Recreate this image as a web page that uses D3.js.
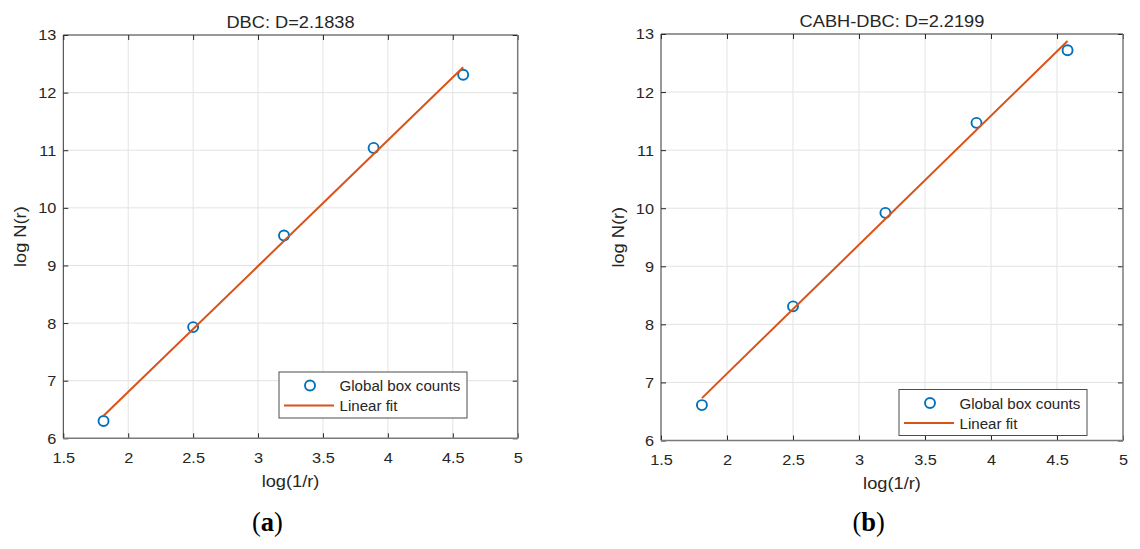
<!DOCTYPE html>
<html>
<head>
<meta charset="utf-8">
<script src="https://cdn.jsdelivr.net/npm/d3@7"></script>
<style>
  html, body { margin: 0; padding: 0; background: #fff; }
  svg { display: block; }
  text { font-family: "Liberation Sans", Arial, sans-serif; fill: #262626; }
</style>
</head>
<body>
<div id="chart-area"></div>
<script>
/* Data */
const logInvR = [1.81, 2.50, 3.20, 3.89, 4.58]
const dbcLogN = [6.30, 7.93, 9.52, 11.04, 12.31]
const cabhLogN = [6.61, 8.31, 9.92, 11.47, 12.72]

// linear fit end points
const fitX = [1.81, 4.58]
const dbcFit = [6.39, 12.44]
const cabhFit = [6.73, 12.88]

const xTicks = [1.5, 2, 2.5, 3, 3.5, 4, 4.5, 5]
const yTicks = [6, 7, 8, 9, 10, 11, 12, 13]
const titles = ['DBC: D=2.1838', 'CABH-DBC: D=2.2199']
const captions = ['a', 'b']
const legendLabels = ['Global box counts', 'Linear fit']

/* Canvas */
const CANVAS_WIDTH = 1140
const CANVAS_HEIGHT = 549

const BLUE = '#0072BD'
const ORANGE = '#D95319'

const $canvas = d3.select('#chart-area')
  .append('svg')
  .attr('width', CANVAS_WIDTH)
  .attr('height', CANVAS_HEIGHT)

const panels = [
  { left: 63.3, top: 35, right: 517.7, bottom: 438.3, logN: dbcLogN, fit: dbcFit,
    title: titles[0], caption: captions[0], legend: { x: 279, y: 372 }, capX: 267.4 },
  { left: 661, top: 34, right: 1123, bottom: 440.5, logN: cabhLogN, fit: cabhFit,
    title: titles[1], caption: captions[1], legend: { x: 899, y: 389.5 }, capX: 868.6 }
]

function drawPanel(p) {
  const width = p.right - p.left
  const height = p.bottom - p.top

  const $g = $canvas.append('g')
    .attr('transform', `translate(${p.left}, ${p.top})`)

  const scaleX = d3.scaleLinear().domain([1.5, 5]).range([0, width])
  const scaleY = d3.scaleLinear().domain([6, 13]).range([height, 0])

  // grid
  $g.append('g').selectAll('line.gx')
    .data(xTicks.slice(1, -1))
    .join('line')
    .attr('x1', d => scaleX(d)).attr('x2', d => scaleX(d))
    .attr('y1', 0).attr('y2', height)
    .attr('stroke', '#e3e3e3')
  $g.append('g').selectAll('line.gy')
    .data(yTicks.slice(1, -1))
    .join('line')
    .attr('y1', d => scaleY(d)).attr('y2', d => scaleY(d))
    .attr('x1', 0).attr('x2', width)
    .attr('stroke', '#e3e3e3')

  // axes (inward ticks on all four sides)
  const fmt = d => String(d)
  const xAxisCall = d3.axisBottom(scaleX).tickValues(xTicks).tickFormat(fmt)
    .tickSizeInner(-5).tickSizeOuter(0).tickPadding(14)
  const yAxisCall = d3.axisLeft(scaleY).tickValues(yTicks).tickFormat(fmt)
    .tickSizeInner(-5).tickSizeOuter(0).tickPadding(7)
  const $xAxis = $g.append('g').attr('transform', `translate(0, ${height})`).call(xAxisCall)
  const $yAxis = $g.append('g').call(yAxisCall)
  $g.append('g').call(d3.axisTop(scaleX).tickValues(xTicks).tickSizeInner(-5).tickSizeOuter(0).tickFormat(''))
  $g.append('g').attr('transform', `translate(${width}, 0)`)
    .call(d3.axisRight(scaleY).tickValues(yTicks).tickSizeInner(-5).tickSizeOuter(0).tickFormat(''))

  $g.selectAll('.domain').remove()
  $g.selectAll('.tick line').attr('stroke', '#262626')
  $xAxis.selectAll('text').attr('font-size', 15.4).attr('fill', '#262626').attr('class', 'stretch')
  $yAxis.selectAll('text').attr('font-size', 15.4).attr('fill', '#262626').attr('class', 'stretch')

  // frame
  $g.append('line').attr('x1', 0).attr('x2', width).attr('y1', 0).attr('y2', 0)
    .attr('stroke', '#333').attr('stroke-width', 1)
  $g.append('line').attr('x1', 0).attr('x2', 0).attr('y1', 0).attr('y2', height)
    .attr('stroke', '#333').attr('stroke-width', 1)
  $g.append('line').attr('x1', 0).attr('x2', width).attr('y1', height).attr('y2', height)
    .attr('stroke', '#7a7a7a').attr('stroke-width', 1.5)
  $g.append('line').attr('x1', width).attr('x2', width).attr('y1', 0).attr('y2', height)
    .attr('stroke', '#7a7a7a').attr('stroke-width', 1.5)

  // data circles
  $g.append('g').selectAll('circle')
    .data(logInvR.map((x, i) => ({ x, y: p.logN[i] })))
    .join('circle')
    .attr('cx', d => scaleX(d.x))
    .attr('cy', d => scaleY(d.y))
    .attr('r', 5)
    .attr('fill', 'none')
    .attr('stroke', BLUE)
    .attr('stroke-width', 1.9)

  // linear fit
  const line = d3.line().x(d => scaleX(d[0])).y(d => scaleY(d[1]))
  $g.append('path')
    .datum(fitX.map((x, i) => [x, p.fit[i]]))
    .attr('d', line)
    .attr('fill', 'none')
    .attr('stroke', ORANGE)
    .attr('stroke-width', 2)

  // title
  $g.append('text')
    .attr('class', 'stretch')
    .attr('x', width / 2)
    .attr('y', -7)
    .attr('font-size', 17.2)
    .attr('text-anchor', 'middle')
    .text(p.title)

  // x-label
  $g.append('text')
    .attr('class', 'stretch')
    .attr('x', width / 2)
    .attr('y', height + 48.5)
    .attr('font-size', 17.2)
    .attr('text-anchor', 'middle')
    .text('log(1/r)')

  // y-label
  $g.append('text')
    .attr('class', 'stretch')
    .attr('x', -(height / 2))
    .attr('y', -37)
    .attr('font-size', 17.2)
    .attr('text-anchor', 'middle')
    .attr('transform', 'rotate(-90)')
    .text('log N(r)')

  // legend
  const $legend = $canvas.append('g')
    .attr('transform', `translate(${p.legend.x}, ${p.legend.y})`)
  $legend.append('rect')
    .attr('width', 188).attr('height', 46)
    .attr('fill', '#fff').attr('stroke', '#4d4d4d').attr('stroke-width', 1)
  $legend.append('circle')
    .attr('cx', 31).attr('cy', 13.5).attr('r', 5)
    .attr('fill', 'none').attr('stroke', BLUE).attr('stroke-width', 1.9)
  $legend.append('line')
    .attr('x1', 5).attr('x2', 55).attr('y1', 33.5).attr('y2', 33.5)
    .attr('stroke', ORANGE).attr('stroke-width', 2)
  $legend.selectAll('text')
    .data(legendLabels)
    .join('text')
    .attr('x', 60.5)
    .attr('y', (d, i) => 19 + i * 20)
    .attr('font-size', 15.1)
    .text(d => d)

  // caption
  const $cap = $canvas.append('text')
    .attr('x', p.capX)
    .attr('y', 531)
    .attr('text-anchor', 'middle')
    .attr('font-size', 26.5)
    .style('font-family', '"Liberation Serif", "Times New Roman", serif')
    .style('fill', '#000')
  $cap.append('tspan').text('(')
  $cap.append('tspan').attr('font-weight', 'bold').text(p.caption)
  $cap.append('tspan').text(')')
}

panels.forEach(drawPanel)

// numbers and labels in the source come out a little wider than their height suggests
$canvas.selectAll('text.stretch').each(function () {
  const w = this.getComputedTextLength()
  d3.select(this).attr('textLength', w * 1.06).attr('lengthAdjust', 'spacingAndGlyphs')
})
</script>
</body>
</html>
